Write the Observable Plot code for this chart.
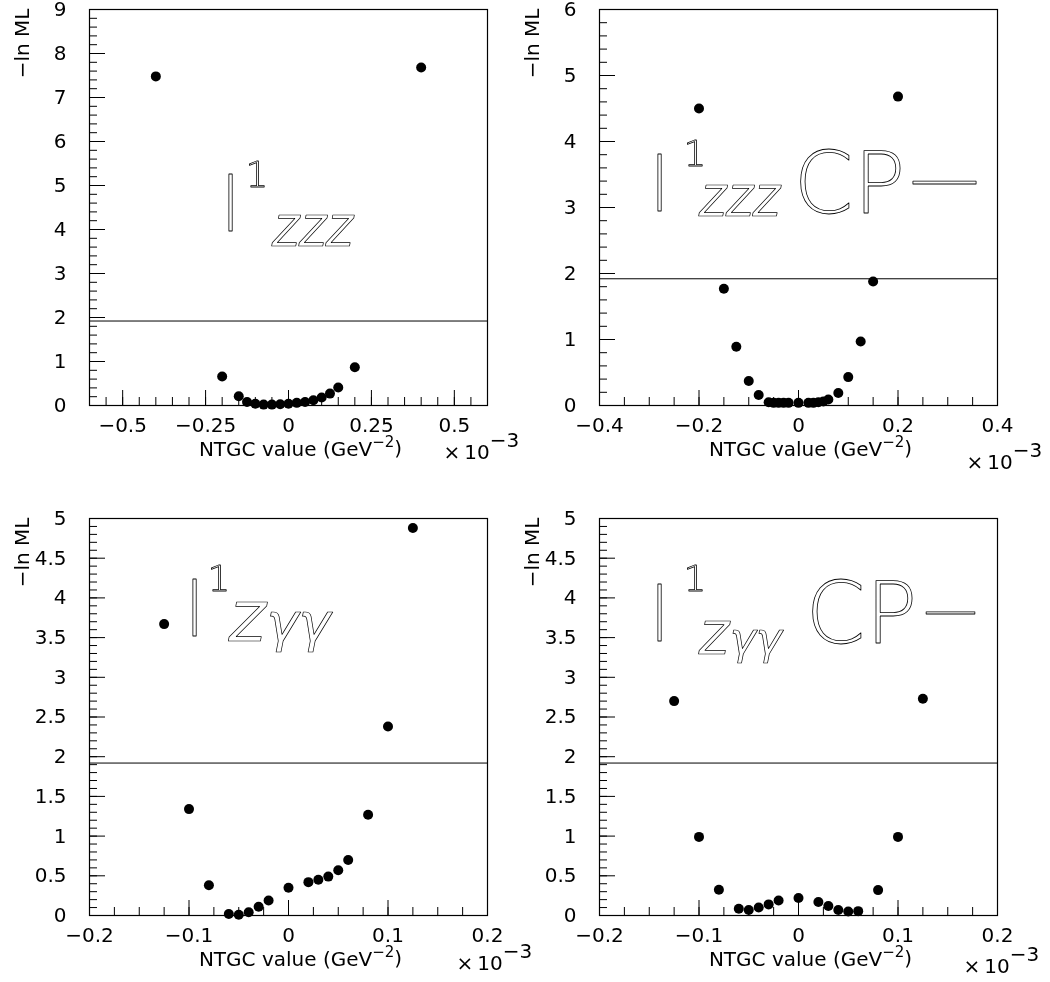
<!DOCTYPE html>
<html><head><meta charset="utf-8">
<script src="https://cdn.jsdelivr.net/npm/d3@7"></script>
<script src="https://cdn.jsdelivr.net/npm/@observablehq/plot@0.6"></script>
<style>
body{margin:0;background:#fff;}
#wrap{position:relative;width:1050px;height:982px;overflow:hidden;background:#fff;}
#wrap > .panel{position:absolute;will-change:transform;}
</style></head><body><div id="wrap"></div>
<script>
// ---- data: NTGC value (x 10^-3 GeV^-2) and -ln ML ----
const zzzX   = [-0.4, -0.2, -0.15, -0.125, -0.1, -0.075, -0.05, -0.025, 0, 0.025, 0.05, 0.075, 0.1, 0.125, 0.15, 0.2, 0.4];
const zzzY   = [7.48, 0.66, 0.21, 0.08, 0.04, 0.02, 0.02, 0.03, 0.04, 0.06, 0.08, 0.12, 0.18, 0.27, 0.41, 0.87, 7.68];

const zzzCPX = [-0.2, -0.15, -0.125, -0.1, -0.08, -0.06, -0.05, -0.04, -0.03, -0.02, 0, 0.02, 0.03, 0.04, 0.05, 0.06, 0.08, 0.1, 0.125, 0.15, 0.2];
const zzzCPY = [4.50, 1.77, 0.89, 0.37, 0.16, 0.05, 0.04, 0.04, 0.04, 0.04, 0.04, 0.04, 0.04, 0.05, 0.06, 0.09, 0.19, 0.43, 0.97, 1.88, 4.68];

const zggX   = [-0.125, -0.1, -0.08, -0.06, -0.05, -0.04, -0.03, -0.02, 0, 0.02, 0.03, 0.04, 0.05, 0.06, 0.08, 0.1, 0.125];
const zggY   = [3.67, 1.34, 0.38, 0.02, 0.01, 0.04, 0.11, 0.19, 0.35, 0.42, 0.45, 0.49, 0.57, 0.70, 1.27, 2.38, 4.88];

const zggCPX = [-0.125, -0.1, -0.08, -0.06, -0.05, -0.04, -0.03, -0.02, 0, 0.02, 0.03, 0.04, 0.05, 0.06, 0.08, 0.1, 0.125];
const zggCPY = [2.70, 0.99, 0.325, 0.085, 0.07, 0.10, 0.14, 0.19, 0.22, 0.17, 0.12, 0.07, 0.05, 0.055, 0.32, 0.99, 2.73];

const limitLevel = [1.92];

// tick labels
const xLabelsWide   = [-0.5, -0.25, 0, 0.25, 0.5];
const xLabelsMid    = [-0.4, -0.2, 0, 0.2, 0.4];
const xLabelsNarrow = [-0.2, -0.1, 0, 0.1, 0.2];
const yLabels9 = [0, 1, 2, 3, 4, 5, 6, 7, 8, 9];
const yLabels6 = [0, 1, 2, 3, 4, 5, 6];
const yLabels5 = [0, 0.5, 1, 1.5, 2, 2.5, 3, 3.5, 4, 4.5, 5];

const yTitle = "−ln ML";
const xTitle = "NTGC value (GeV{−2})";   // {..} small superscript
const xExp = "×\u200910[−3]";            // [..] full-size superscript

// ---- helpers ----
const steps = (a, b, s) => d3.range(Math.round((b - a) / s) + 1).map(i => +(a + i * s).toFixed(6));
const fmt = d => d === 0 ? "0" : String(d).replace("-", "−");
const FONT = "'DejaVu Sans', sans-serif";
const HOLLOW = {fill: "none", stroke: "black", strokeWidth: 0.8, fontFamily: "'DejaVu Sans', sans-serif", fontWeight: 200, textAnchor: "start", lineAnchor: "bottom", frameAnchor: "top-left"};

function ann(txt, dx, dy, size, extra = {}) {
  return Plot.text([txt], {...HOLLOW, dx, dy, fontSize: size, ...extra});
}
const ZFONT = {fontStyle: "italic", fontFamily: "'Liberation Sans', Arial, sans-serif", fontWeight: 400, strokeWidth: 0.7};
const GFONT = {fontStyle: "italic", strokeWidth: 0.7};

function panel({xs, ys, xDomain, yDomain, xMinor, xMajor, xLabels, yMinor, yMajor, yLabels, height, marginBottom, expDx, expDy, notes}) {
  const svg = Plot.plot({
    width: 560, height,
    marginLeft: 89, marginRight: 73, marginTop: 9, marginBottom,
    x: {domain: xDomain}, y: {domain: yDomain},
    style: `background: transparent; overflow: visible; max-width: none; font-family: ${FONT}; font-size: 20px; color: black;`,
    marks: [
      Plot.frame({stroke: "black", strokeWidth: 1.2}),
      Plot.axisX({ticks: xMinor, tickSize: -8, tickFormat: () => "", label: null, strokeWidth: 1}),
      Plot.axisX({ticks: xMajor, tickSize: -15, tickFormat: () => "", label: null, strokeWidth: 1}),
      Plot.axisX({ticks: xLabels, tickSize: 0, tickPadding: 12, tickFormat: fmt, label: null, fontSize: 20}),
      Plot.axisY({ticks: yMinor, tickSize: -8, tickFormat: () => "", label: null, strokeWidth: 1}),
      Plot.axisY({ticks: yMajor, tickSize: -16, tickFormat: () => "", label: null, strokeWidth: 1}),
      Plot.axisY({ticks: yLabels, tickSize: 0, tickPadding: 23, tickFormat: fmt, label: null, fontSize: 20}),
      Plot.ruleY(limitLevel, {stroke: "black", strokeWidth: 1}),
      Plot.dot(xs, {x: xs, y: ys, r: 5, fill: "black", stroke: "none"}),
      Plot.text([yTitle], {frameAnchor: "top-left", dx: -75, dy: -1, rotate: -90, textAnchor: "end", fontSize: 20}),
      Plot.text([xTitle], {frameAnchor: "bottom", dx: 12, dy: 50, lineAnchor: "bottom", fontSize: 20}),
      Plot.text([xExp], {frameAnchor: "bottom-right", dx: expDx, dy: expDy, textAnchor: "start", lineAnchor: "bottom", fontSize: 20}),
      ...notes
    ]
  });
  // superscripts
  d3.select(svg).selectAll("text").each(function() {
    const t = this.textContent;
    const m = t.match(/^(.*)([\{\[])(.*)[\}\]](.*)$/);
    if (!m) return;
    const small = m[2] === "{";
    const el = d3.select(this);
    el.text(null);
    el.append("tspan").text(m[1]);
    const sup = el.append("tspan").attr("dy", small ? "-0.55em" : "-0.6em").text(m[3]);
    if (small) sup.attr("font-size", "0.75em");
    if (m[4]) el.append("tspan").attr("dy", small ? "0.41em" : "0.6em").text(m[4]);
  });
  return svg;
}

const wrap = document.getElementById("wrap");
function place(svg, left, top) {
  const d = document.createElement("div");
  d.className = "panel";
  d.style.left = left + "px"; d.style.top = top + "px";
  d.appendChild(svg);
  wrap.appendChild(d);
}

const topRow = {height: 491, marginBottom: 86};
const botRow = {height: 473, marginBottom: 67};

place(panel({
  xs: zzzX, ys: zzzY, xDomain: [-0.6, 0.6], yDomain: [0, 9],
  xMinor: steps(-0.6, 0.6, 0.05), xMajor: steps(-0.5, 0.5, 0.25), xLabels: xLabelsWide,
  yMinor: steps(0, 9, 0.2), yMajor: steps(0, 9, 1), yLabels: yLabels9,
  ...topRow, expDx: -44, expDy: 53,
  notes: [
    ann("l", 131, 221, 74),
    ann("1", 156, 177, 36),
    ann("ZZZ", 183, 236, 44, ZFONT)
  ]
}), 0, 0);

place(panel({
  xs: zzzCPX, ys: zzzCPY, xDomain: [-0.4, 0.4], yDomain: [0, 6],
  xMinor: steps(-0.4, 0.4, 0.05), xMajor: steps(-0.4, 0.4, 0.2), xLabels: xLabelsMid,
  yMinor: steps(0, 6, 0.2), yMajor: steps(0, 6, 1), yLabels: yLabels6,
  ...topRow, expDx: -31, expDy: 63,
  notes: [
    ann("l", 50, 201, 74),
    ann("1", 84, 156, 36),
    ann("ZZZ", 100, 206, 44, ZFONT),
    ann("CP", 194, 203, 86),
    ann("—", 310, 192, 70)
  ]
}), 510, 0);

place(panel({
  xs: zggX, ys: zggY, xDomain: [-0.2, 0.2], yDomain: [0, 5],
  xMinor: steps(-0.2, 0.2, 0.025), xMajor: steps(-0.2, 0.2, 0.1), xLabels: xLabelsNarrow,
  yMinor: steps(0, 5, 0.1), yMajor: steps(0, 5, 0.5), yLabels: yLabels5,
  ...botRow, expDx: -31, expDy: 54,
  notes: [
    ann("l", 95, 117, 74),
    ann("1", 118, 72, 36),
    ann("Zγγ", 140, 122, 54, GFONT)
  ]
}), 0, 509);

place(panel({
  xs: zggCPX, ys: zggCPY, xDomain: [-0.2, 0.2], yDomain: [0, 5],
  xMinor: steps(-0.2, 0.2, 0.025), xMajor: steps(-0.2, 0.2, 0.1), xLabels: xLabelsNarrow,
  yMinor: steps(0, 5, 0.1), yMajor: steps(0, 5, 0.5), yLabels: yLabels5,
  ...botRow, expDx: -34, expDy: 57,
  notes: [
    ann("l", 50, 122, 74),
    ann("1", 84, 72, 36),
    ann("Zγγ", 100, 135, 44, GFONT),
    ann("CP", 206, 124, 86),
    ann("—", 324, 109, 54)
  ]
}), 510, 509);
</script>
</body></html>
